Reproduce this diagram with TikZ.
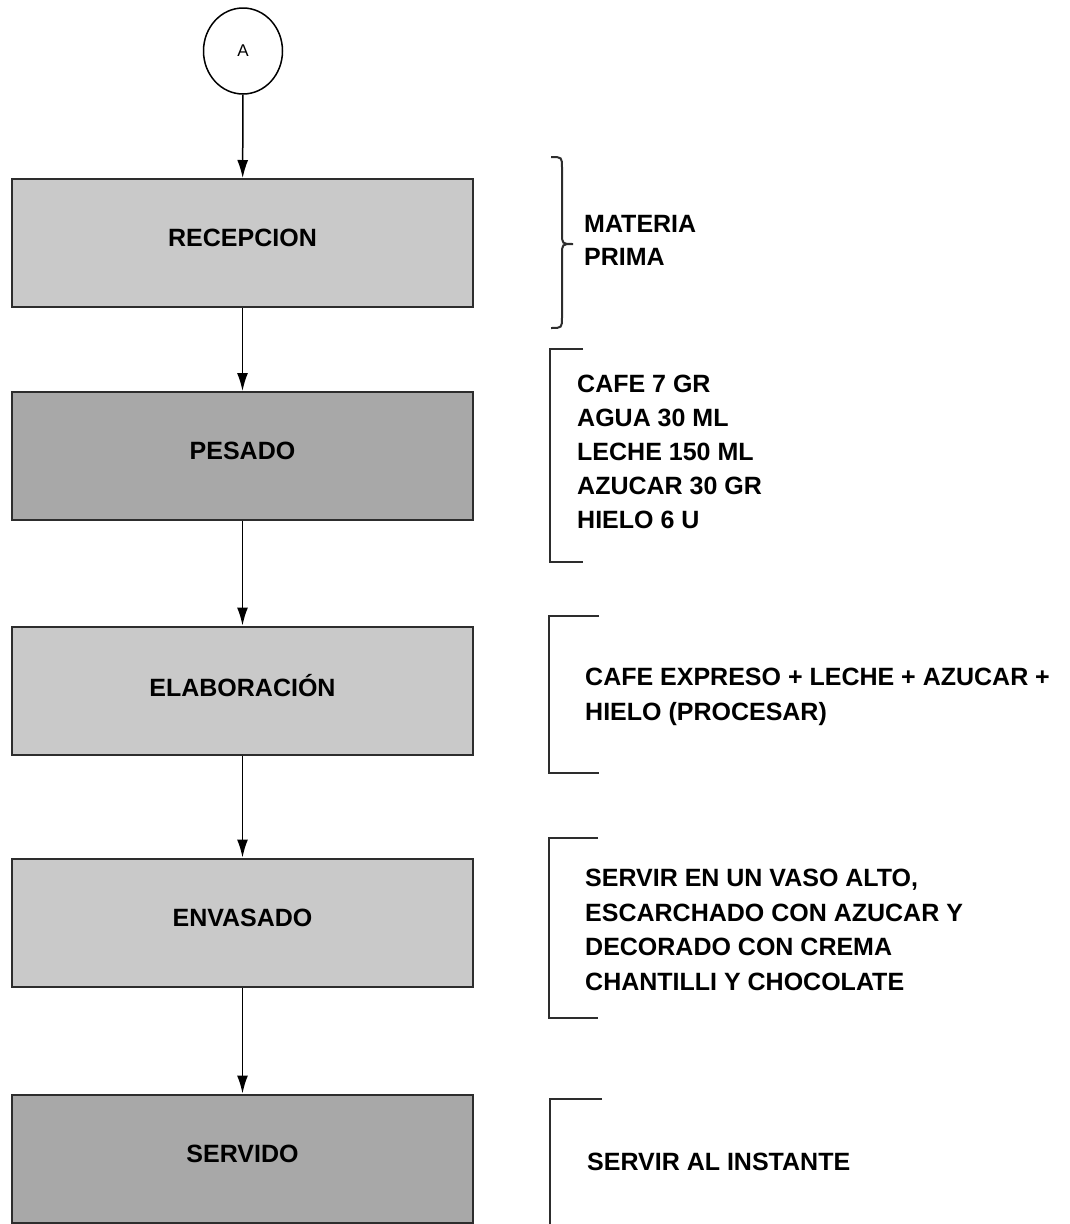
\documentclass[tikz,border=0pt]{standalone}
\usepackage{fontspec}
\setmainfont{Liberation Sans}
\usetikzlibrary{arrows.meta,shapes.geometric}
\definecolor{lightbox}{RGB}{201,201,201}
\definecolor{darkbox}{RGB}{168,168,168}
\definecolor{edge}{RGB}{45,45,45}
\begin{document}
\begin{tikzpicture}[x=1pt,y=-1pt,
  stepbox/.style={draw=edge,line width=2pt,minimum width=461pt,minimum height=128pt,inner sep=0pt,
    text depth=10pt,font=\fontsize{25}{30}\selectfont\bfseries},
  lightstep/.style={stepbox,fill=lightbox},
  darkstep/.style={stepbox,fill=darkbox},
  note/.style={anchor=base west,inner sep=0pt,align=left,
    font=\fontsize{25}{34.5}\selectfont\bfseries},
  flow/.style={draw=black,line width=1.5pt,-{Latex[length=18pt,width=11pt]}},
  bracket/.style={draw=edge,line width=2pt}]
\useasboundingbox (0,0) rectangle (1070,1224);
\node[ellipse,draw=black,line width=1.5pt,minimum width=79pt,minimum height=86pt,inner sep=0pt,
  font=\fontsize{17}{19}\selectfont] (A) at (243,51) {A};
\node[lightstep] (rec) at (242.5,243) {RECEPCION};
\node[darkstep] (pes) at (242.5,456) {PESADO};
\node[lightstep] (ela) at (242.5,690.5) {ELABORACIÓN};
\node[lightstep] (env) at (242.5,922.5) {ENVASADO};
\node[darkstep] (ser) at (242.5,1158.5) {SERVIDO};
\draw[flow] (A) -- (rec);
\draw[flow] (rec) -- (pes);
\draw[flow] (pes) -- (ela);
\draw[flow] (ela) -- (env);
\draw[flow] (env) -- (ser);
% brace
\draw[bracket] (551,157) .. controls (562,157) .. (562,168) -- (562,233)
  .. controls (562,244) .. (573,244) .. controls (562,244) .. (562,255) -- (562,317)
  .. controls (562,328) .. (551,328);
\node[note,font=\fontsize{25}{33}\selectfont\bfseries] (t1) at (584,265) {MATERIA\\PRIMA};
% brackets
\draw[bracket] (583,349) -- (550,349) -- (550,562) -- (583,562);
\node[note,font=\fontsize{25}{34}\selectfont\bfseries] (t2) at (577,528) {CAFE 7 GR\\AGUA 30 ML\\LECHE 150 ML\\AZUCAR 30 GR\\HIELO 6 U};
\draw[bracket] (599,616) -- (549,616) -- (549,773) -- (599,773);
\node[note,font=\fontsize{25}{35}\selectfont\bfseries] (t3) at (585,720) {CAFE EXPRESO + LECHE + AZUCAR +\\HIELO (PROCESAR)};
\draw[bracket] (598,838) -- (549,838) -- (549,1018) -- (598,1018);
\node[note] (t4) at (585,990) {SERVIR EN UN VASO ALTO,\\ESCARCHADO CON AZUCAR Y\\DECORADO CON CREMA\\CHANTILLI Y CHOCOLATE};
\draw[bracket] (602,1099) -- (550,1099) -- (550,1224);
\node[note] (t5) at (587,1170) {SERVIR AL INSTANTE};
\end{tikzpicture}
\end{document}
